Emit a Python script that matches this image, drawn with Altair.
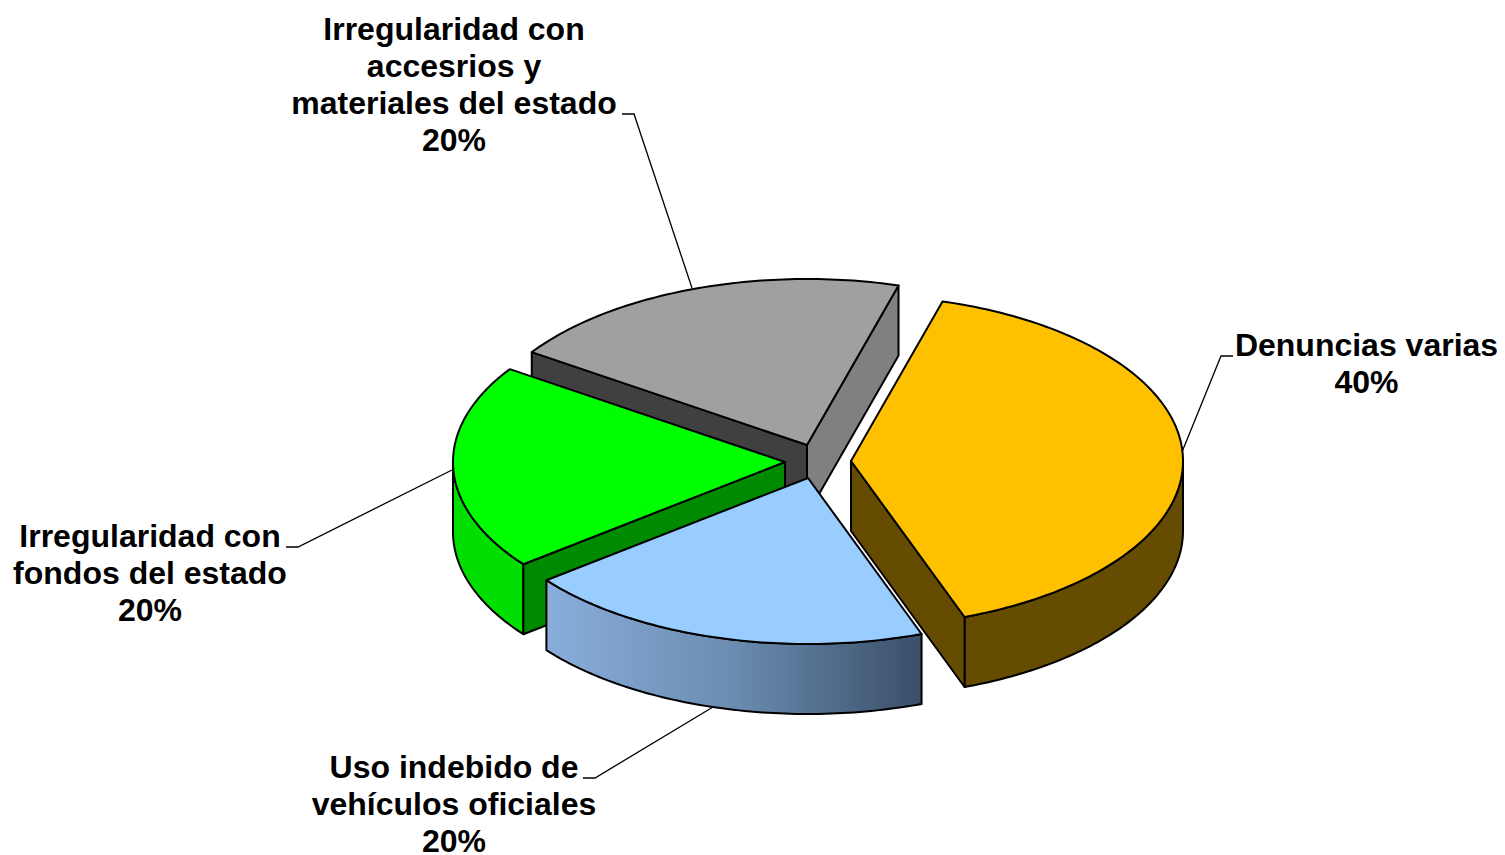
import math
import altair as alt

# --- chart values ---
categories = ["Denuncias varias", "Uso indebido de vehículos oficiales",
              "Irregularidad con fondos del estado",
              "Irregularidad con accesrios y materiales del estado"]
shares = [40, 20, 20, 20]
percent_labels = ["40%", "20%", "20%", "20%"]
label_lines = [
    ["Denuncias varias", "40%"],
    ["Uso indebido de", "vehículos oficiales", "20%"],
    ["Irregularidad con", "fondos del estado", "20%"],
    ["Irregularidad con", "accesrios y", "materiales del estado", "20%"],
]

# --- layout / style ---
START = 16.0            # first slice angle, clockwise from 12 o'clock
RX, RY, DEPTH = 332.0, 166.0, 70.0
APEX = [(851, 461), (808, 478), (785, 462), (807, 445)]   # exploded slice apexes
LABEL_POS = [(1366.5, 356), (454, 778), (150, 547), (454, 40)]
LINE_STEP = 37
LEADERS = [
    [(1182, 452), (1221, 356), (1233, 356)],
    [(713, 707), (595, 778), (583, 778)],
    [(452, 470), (298, 547), (286, 547)],
    [(692, 288), (634, 114), (622, 114)],
]
TOPS = ["#FFC000", "#99CCFF", "#00FF00", "#A0A0A0"]
FONT_SIZE = 32
OX, OY = 8, 8
SW = 2.0


def pt(apex, ang, dz=0.0):
    r = math.radians(ang)
    return (apex[0] + RX * math.sin(r) - OX, apex[1] - RY * math.cos(r) + dz - OY)


def arc(apex, a0, a1, dz=0.0, step=1.0):
    n = max(2, int(abs(a1 - a0) / step) + 1)
    return [pt(apex, a0 + (a1 - a0) * i / (n - 1), dz) for i in range(n)]


def shape(coords, closed=True):
    c = [list(p) for p in coords]
    if closed:
        c = c + [c[0]]
        geom = {"type": "Polygon", "coordinates": [c]}
    else:
        geom = {"type": "LineString", "coordinates": c}
    return {"type": "Feature", "properties": {}, "geometry": geom}


def face(coords, fill):
    return alt.Chart(alt.Data(values=[shape(coords)])).mark_geoshape(
        fill=fill, stroke="#000000", strokeWidth=SW, strokeJoin="round")


def cut_wall(apex, ang, fill):
    a = (apex[0] - OX, apex[1] - OY)
    e = pt(apex, ang)
    return face([a, e, (e[0], e[1] + DEPTH), (a[0], a[1] + DEPTH)], fill)


def outer_wall(apex, a0, a1, fill):
    return face(arc(apex, a0, a1) + arc(apex, a1, a0, DEPTH), fill)


def top(apex, a0, a1, fill):
    return face([(apex[0] - OX, apex[1] - OY)] + arc(apex, a0, a1), fill)


# slice angles from the shares
angles = []
a = START
for s in shares:
    angles.append((a, a + s * 3.6))
    a += s * 3.6

blue_grad = alt.Gradient(
    gradient="linear", x1=0, x2=1, y1=0, y2=0,
    stops=[alt.GradientStop(offset=0, color="#8AAEDC"),
           alt.GradientStop(offset=0.5, color="#6A8CB0"),
           alt.GradientStop(offset=1, color="#3A4E68")])

layers = []
# grey (back)
g0, g1 = angles[3]
layers += [cut_wall(APEX[3], g0, "#404040"), cut_wall(APEX[3], g1, "#808080"),
           top(APEX[3], g0, g1, TOPS[3])]
# green
g0, g1 = angles[2]
layers += [outer_wall(APEX[2], g0, 270, "#00DF00"), cut_wall(APEX[2], g0, "#008A00"),
           top(APEX[2], g0, g1, TOPS[2])]
# yellow
y0, y1 = angles[0]
layers += [outer_wall(APEX[0], 90, y1, "#664C00"), cut_wall(APEX[0], y1, "#664C00"),
           top(APEX[0], y0, y1, TOPS[0])]
# blue
b0, b1 = angles[1]
layers += [outer_wall(APEX[1], b0, b1, blue_grad), top(APEX[1], b0, b1, TOPS[1])]

# leader lines
for leader in LEADERS:
    pts = [(x - OX, y - OY) for x, y in leader]
    layers.append(
        alt.Chart(alt.Data(values=[shape(pts, closed=False)])).mark_geoshape(
            filled=False, stroke="#000000", strokeWidth=1.3))

# labels
rows = []
for lines, (x, y) in zip(label_lines, LABEL_POS):
    for i, t in enumerate(lines):
        rows.append({"t": t, "lon": x - OX, "lat": y - OY + i * LINE_STEP})
layers.append(
    alt.Chart(alt.Data(values=rows)).mark_text(
        font="Liberation Sans", fontWeight="bold", fontSize=FONT_SIZE,
        align="center", baseline="alphabetic", color="#000000"
    ).encode(longitude="lon:Q", latitude="lat:Q", text="t:N"))

chart = alt.layer(*layers).project(
    type="identity", scale=1, translate=[0, 0]
).properties(width=1489, height=847, padding=0, background="#FFFFFF"
).configure_view(stroke=None)

chart.save("out.html", embed_options={"renderer": "svg", "actions": False})
